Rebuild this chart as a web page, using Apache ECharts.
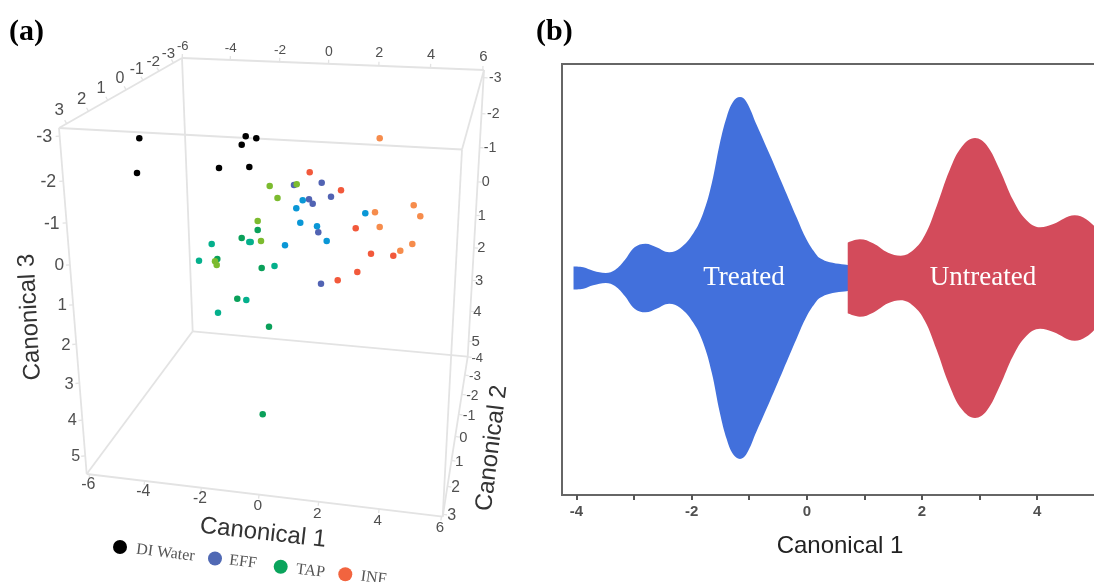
<!DOCTYPE html>
<html>
<head>
<meta charset="utf-8">
<style>html,body{margin:0;padding:0;background:#fff}#c{width:1094px;height:582px}</style>
<script src="https://cdn.jsdelivr.net/npm/echarts@6/dist/echarts.min.js"></script>
</head>
<body>
<div id="c"></div>
<script>
// ---- Panel (a): projected positions of the 3D scatter as seen in the picture
const diWater = [[139.3,138.3],[137,173],[245.7,136.3],[256.3,138.3],[241.7,144.7],[219,168],[249.3,167]];
const effBlue = [[294,185],[321.7,182.7],[331,196.7],[309,199.3],[312.7,203.7],[318.3,232.3],[321,283.7]];
const effSky = [[302.7,200.3],[296.3,208.3],[300.3,222.7],[317,226.3],[326.7,241],[285,245.3],[365.3,213.3]];
const tapDark = [[257.7,230],[241.7,238],[217.3,259],[261.7,268],[237.3,298.7],[269,326.7],[262.7,414.3]];
const tapTeal = [[211.7,244],[249.3,242],[250.7,242],[199,260.7],[274.5,266],[246.3,300],[218,312.7]];
const tapLime = [[269.7,186],[277.5,198],[257.7,221],[261,241],[215,261.3],[216.7,265],[296.7,184.3]];
const infRed = [[309.7,172.3],[341,190.3],[355.7,228.3],[371,253.7],[393.3,255.7],[357.3,272],[337.7,280.3]];
const infOrange = [[379.7,138.3],[413.7,205.3],[420.3,216.3],[375,212.3],[379.7,227],[412.3,244],[400.3,250.7]];

const boxEdges = [
  [[59,128],[462,149.5]],[[182,58],[484,70]],[[59,128],[182,58]],[[462,149.5],[484,70]],
  [[59,128],[86.7,474]],[[182,58],[192.7,331.3]],[[484,70],[467.7,356.7]],[[462,149.5],[442.7,516.7]],
  [[86.7,474],[442.7,516.7]],[[192.7,331.3],[467.7,356.7]],[[86.7,474],[192.7,331.3]],[[442.7,516.7],[467.7,356.7]]
];

const topCanonical1 = [[182.7,46.7,'-6'],[230.7,48.7,'-4'],[280,50.7,'-2'],[329,51.7,'0'],[379.3,53.3,'2'],[431,55,'4'],[483.3,57.3,'6']];
const topCanonical2 = [[59.3,110.7,'3'],[81.7,99.3,'2'],[101,88.3,'1'],[120,79,'0'],[136.7,69.3,'-1'],[153.3,61.3,'-2'],[168.3,54,'-3']];
const leftCanonical3 = [[44.3,137.3,'-3'],[48.3,182.3,'-2'],[51.7,224,'-1'],[59.3,265.7,'0'],[62.3,305.7,'1'],[66,345,'2'],[69,384,'3'],[72.3,421,'4'],[75.7,456.7,'5']];
const rightCanonical3 = [[495.3,78.3,'-3'],[493.3,114.3,'-2'],[490,148.3,'-1'],[485.7,182.3,'0'],[481.7,215.7,'1'],[481.3,248.3,'2'],[479,280.7,'3'],[477.3,311.7,'4'],[475.7,341.7,'5']];
const rightCanonical2 = [[477.3,358.3,'-4'],[475,376.7,'-3'],[472.3,396,'-2'],[469,416,'-1'],[463.3,437.7,'0'],[459.3,461.7,'1'],[455.7,487.7,'2'],[451.7,515.7,'3']];
const bottomCanonical1 = [[88.3,485,'-6'],[143.3,491.7,'-4'],[200,499,'-2'],[257.7,506,'0'],[317.3,513.3,'2'],[377.7,520.7,'4'],[440,528.3,'6']];

const axisTitles3d = [
  {pos:[30,317], text:'Canonical 3', rot:93, size:24},
  {pos:[263,533], text:'Canonical 1', rot:-6.5, size:24},
  {pos:[492,448], text:'Canonical 2', rot:83, size:24}
];
const legendNames = ['DI Water','EFF','TAP','INF'];
const legendColors = ['#000000','#5069b4','#0aa45c','#f2643f'];
const legendDots = [[120,547],[215,558.5],[280.7,566.7],[345.3,574.3]];
const legendText = [[165.5,553],[243,562],[310.5,571],[373.5,578]];

// ---- Panel (b): violin half widths against Canonical 1
const treatedX = [-4.05,-3.88,-3.71,-3.49,-3.33,-3.16,-2.99,-2.80,-2.61,-2.39,-2.20,-1.97,-1.80,-1.65,-1.51,-1.39,-1.28,-1.16,-1.05,-0.87,-0.64,-0.41,-0.18,0,0.17,0.23,0.40,0.72];
const treatedW = [11.5,10.7,7.3,5,8,18,30.7,34.3,30.7,25.7,29.7,44.7,64.7,94.7,134.7,161.3,176.3,181,176.3,153,123,92,61,38,23,19.7,15.7,13];
const untreatedX = [0.71,0.92,1.15,1.41,1.63,1.85,2.05,2.25,2.48,2.69,2.92,3.12,3.35,3.58,3.81,4.05,4.28,4.65,4.85,5.02];
const untreatedW = [35.3,38.7,34.7,25.3,22.3,28,43,71.3,108,131.3,140,133,108,78,58,50.7,54,62.7,58.7,50];
const majorTicks = [-4,-2,0,2,4];
const allTicks = [-4,-3,-2,-1,0,1,2,3,4];

const TICK = '#505050';
const SANS = '"Liberation Sans", Arial, sans-serif';
const SERIF = '"Liberation Serif", "Times New Roman", serif';

function pts(name, data, color, size){
  return {type:'scatter', name, xAxisIndex:0, yAxisIndex:0, data, symbolSize:size||6.5, z:4,
    itemStyle:{color, opacity:1}, silent:true};
}
function textSeries(items, sizeFar, sizeNear, color){
  return {type:'scatter', xAxisIndex:0, yAxisIndex:0, symbolSize:0, z:5, silent:true, itemStyle:{opacity:1},
    data: items.map((d,i)=>({value:[d[0],d[1]], label:{
      show:true, position:'inside', formatter:d[2], color:color||TICK, fontFamily:SANS,
      fontSize: sizeFar + (sizeNear-sizeFar)*i/(items.length-1)}}))};
}
function violin(name, xs, ws, color, idx){
  const side = s => ({type:'line', name, xAxisIndex:1, yAxisIndex:1,
    data: xs.map((x,i)=>[x,s*ws[i]]), smooth:0.4, symbol:'none', lineStyle:{width:0},
    areaStyle:{color, opacity:1}, silent:true, z:2+idx});
  return [side(1), side(-1)];
}
function edgeLine(seg, width){
  return {type:'line', xAxisIndex:0, yAxisIndex:0, data:seg, symbol:'none', silent:true,
    clip:false, z:1, lineStyle:{color:'#e3e3e3', width}};
}
// short tick from an axis edge toward each of its labels
function ticksFor(labels, a, b){
  const dx=b[0]-a[0], dy=b[1]-a[1], L2=dx*dx+dy*dy;
  return labels.map(l=>{
    const t=Math.max(0,Math.min(1,((l[0]-a[0])*dx+(l[1]-a[1])*dy)/L2));
    const p=[a[0]+t*dx,a[1]+t*dy], ux=l[0]-p[0], uy=l[1]-p[1], n=Math.hypot(ux,uy)||1;
    return edgeLine([p,[p[0]+ux/n*4,p[1]+uy/n*4]],1.3);
  });
}

const series = [];
boxEdges.forEach(e=>series.push(edgeLine(e,1.8)));
series.push(
  ...ticksFor(topCanonical1,[182,58],[484,70]),
  ...ticksFor(topCanonical2,[59,128],[182,58]),
  ...ticksFor(leftCanonical3,[59,128],[86.7,474]),
  ...ticksFor(rightCanonical3,[484,70],[467.7,356.7]),
  ...ticksFor(rightCanonical2,[467.7,356.7],[442.7,516.7]),
  ...ticksFor(bottomCanonical1,[86.7,474],[442.7,516.7])
);
series.push(
  pts('DI Water', diWater, '#000000'),
  pts('EFF', effBlue, '#5163b3'),
  pts('EFF near', effSky, '#0a97d6'),
  pts('TAP', tapDark, '#0aa05a'),
  pts('TAP mid', tapTeal, '#04b08c'),
  pts('TAP lime', tapLime, '#7cbb2f'),
  pts('INF', infRed, '#f2593b'),
  pts('INF far', infOrange, '#f68c4c')
);
series.push(
  textSeries(topCanonical1, 13, 15),
  textSeries(topCanonical2, 17, 15),
  textSeries(leftCanonical3, 18, 16),
  textSeries(rightCanonical3, 14, 15),
  textSeries(rightCanonical2, 13, 16),
  textSeries(bottomCanonical1, 16, 15)
);
series.push({type:'scatter', xAxisIndex:0, yAxisIndex:0, symbolSize:0, z:5, silent:true, itemStyle:{opacity:1},
  data: axisTitles3d.map(t=>({value:t.pos, label:{show:true, position:'inside', formatter:t.text,
    rotate:t.rot, fontFamily:SANS, fontSize:t.size, color:'#333'}}))});
series.push({type:'scatter', xAxisIndex:0, yAxisIndex:0, symbolSize:14, z:5, silent:true, clip:false,
  data: legendDots.map((p,i)=>({value:p, itemStyle:{color:legendColors[i], opacity:1}}))});
series.push({type:'scatter', xAxisIndex:0, yAxisIndex:0, symbolSize:0, z:5, silent:true, itemStyle:{opacity:1},
  data: legendText.map((p,i)=>({value:p, label:{show:true, position:'inside', formatter:legendNames[i],
    rotate:-7, fontFamily:SERIF, fontSize:16, color:'#555'}}))});

series.push(...violin('Treated',treatedX,treatedW,'#4270dc',0));
series.push(...violin('Untreated',untreatedX,untreatedW,'#d34b5b',1));
series.push({type:'scatter', xAxisIndex:1, yAxisIndex:1, symbolSize:0, z:8, silent:true, itemStyle:{opacity:1},
  data:[
    {value:[-1.09,0], label:{show:true, position:'inside', formatter:'Treated', color:'#fff', fontFamily:SERIF, fontSize:27}},
    {value:[3.06,0], label:{show:true, position:'inside', formatter:'Untreated', color:'#fff', fontFamily:SERIF, fontSize:27}}
  ]});

const chart = echarts.init(document.getElementById('c'), null, {renderer:'canvas'});
chart.setOption({
  animation:false,
  backgroundColor:'#fff',
  title:[
    {text:'(a)', left:4, top:12, textStyle:{fontFamily:SERIF, fontWeight:'bold', fontSize:30, color:'#000'}},
    {text:'(b)', left:531, top:12, textStyle:{fontFamily:SERIF, fontWeight:'bold', fontSize:30, color:'#000'}}
  ],
  grid:[
    {left:0, top:0, width:540, height:582, show:false, outerBoundsMode:'none'},
    {left:562, top:64, width:534, height:431, show:true, borderColor:'#666', borderWidth:2, backgroundColor:'transparent', outerBoundsMode:'none'}
  ],
  xAxis:[
    {gridIndex:0, type:'value', min:0, max:540, show:false},
    {gridIndex:1, type:'value', min:-4.25, max:5.02, splitLine:{show:false},
     axisLine:{show:false, onZero:false},
     axisTick:{show:true, length:5, customValues:allTicks, lineStyle:{color:'#555', width:2}},
     axisLabel:{customValues:majorTicks, color:TICK, fontFamily:SANS, fontSize:15, fontWeight:'bold', margin:9},
     name:'Canonical 1', nameLocation:'middle', nameGap:39,
     nameTextStyle:{fontFamily:SANS, fontSize:24, color:'#222', padding:[0,0,0,22]}}
  ],
  yAxis:[
    {gridIndex:0, type:'value', min:0, max:582, inverse:true, show:false},
    {gridIndex:1, type:'value', min:-217, max:214, show:false}
  ],
  series
});
</script>
</body>
</html>
